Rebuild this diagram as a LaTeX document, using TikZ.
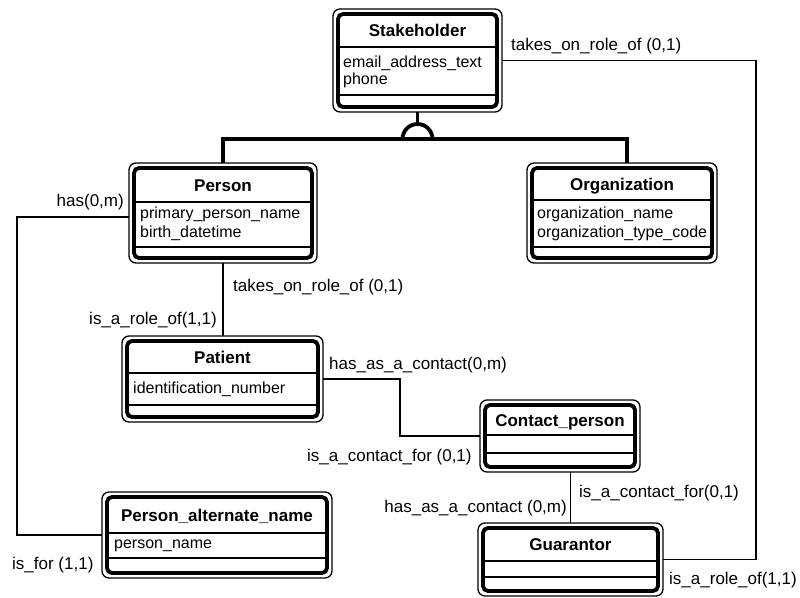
\documentclass[tikz,border=0pt]{standalone}
\usepackage{fontspec}
\setmainfont{Liberation Sans}
\usetikzlibrary{calc}
\tikzset{
 outerbox/.style={draw, line width=1.3pt, rounded corners=7pt, inner sep=0pt, outer sep=0pt},
 innerbox/.style={draw, line width=3.8pt, rounded corners=5pt},
 sepline/.style={draw, line width=1.1pt},
 titletext/.style={font=\fontsize{17}{20}\selectfont\bfseries, inner sep=0pt, anchor=base},
 attrtext/.style={font=\fontsize{16}{18}\selectfont, inner sep=0pt, anchor=base west},
 lbl/.style={font=\fontsize{17}{20}\selectfont, inner sep=0pt},
 conn/.style={draw, line width=1.3pt},
 junc/.style={draw, line width=3.8pt},
}
\newcommand{\ent}[8]{%
 \node[outerbox, minimum width={(#4-#2)*1pt}, minimum height={(#5-#3)*1pt}] (#1) at ({(#2+#4)/2},{(#3+#5)/2}) {};
 \draw[innerbox] ({#2+5},{#3+5}) rectangle ({#4-5},{#5-5});
 \draw[sepline] ({#2+5},#6) -- ({#4-5},#6);
 \draw[sepline] ({#2+5},#7) -- ({#4-5},#7);
 \node[titletext] (#1-t) at ({(#2+#4)/2},{(#3+5+#6)/2+6}) {#8};
}
\begin{document}
\begin{tikzpicture}[x=1pt,y=-1pt]
\useasboundingbox (0,0) rectangle (800,597);

% entities
\ent{stake}{333}{9}{502}{112}{47}{95}{Stakeholder}
\node[attrtext] (stake-a1) at (343,67) {email\_address\_text};
\node[attrtext] (stake-a2) at (343,84) {phone};

\ent{person}{129}{163}{317}{263}{202}{247}{Person}
\node[attrtext] (person-a1) at (140,218) {primary\_person\_name};
\node[attrtext] (person-a2) at (140,237) {birth\_datetime};

\ent{org}{527}{163}{717}{263}{200}{247}{Organization}
\node[attrtext] (org-a1) at (537,218) {organization\_name};
\node[attrtext] (org-a2) at (537,237) {organization\_type\_code};

\ent{patient}{122}{336}{323}{422}{373}{405}{Patient}
\node[attrtext] (patient-a1) at (133,393) {identification\_number};

\ent{contact}{480}{400}{640}{472}{435}{453}{Contact\_person}

\ent{guar}{478}{523}{663}{596}{561}{577}{Guarantor}

\ent{pan}{102}{492}{332}{578}{533}{558}{Person\_alternate\_name}
\node[attrtext] (pan-a1) at (114,548) {person\_name};

% generalization junction
\coordinate (jl) at (223,139);
\coordinate (jr) at (627,139);
\coordinate (jm) at (417.5,139);
\draw[junc] (person.north) -- (jl) -- (jr) -- (jr |- org.north);
\draw[junc] ($(jm)+(-15,0)$) arc[start angle=180, end angle=0, radius=15pt];
\draw[junc] (stake.south) -- ($(jm)+(0,-15)$);

% connectors
\coordinate (rr) at (756,0);
\draw[conn] (stake.east) -| (rr |- guar.east) -- (guar.east);
\coordinate (ll) at (17,0);
\draw[conn] ($(person.west)+(0,4)$) -| (ll |- pan.west) -- (pan.west);
\draw[conn] (person.south) -- (person.south |- patient.north);
\coordinate (pc) at (400,0);
\draw[conn] (patient.east) -- (pc |- patient.east) |- (contact.west);
\draw[conn] (guar.north) -- (guar.north |- contact.south);

% labels
\node[lbl, anchor=west] (l1) at (511,46) {takes\_on\_role\_of (0,1)};
\node[lbl, anchor=east] (l2) at (124,202) {has(0,m)};
\node[lbl, anchor=west] (l3) at (12,565) {is\_for (1,1)};
\node[lbl, anchor=west] (l4) at (233,287) {takes\_on\_role\_of (0,1)};
\node[lbl, anchor=east] (l5) at (217,320) {is\_a\_role\_of(1,1)};
\node[lbl, anchor=west] (l6) at (329,365) {has\_as\_a\_contact(0,m)};
\node[lbl, anchor=west] (l7) at (307,457) {is\_a\_contact\_for (0,1)};
\node[lbl, anchor=west] (l8) at (579,493) {is\_a\_contact\_for(0,1)};
\node[lbl, anchor=east] (l9) at (567,508) {has\_as\_a\_contact (0,m)};
\node[lbl, anchor=west] (l10) at (669,580) {is\_a\_role\_of(1,1)};
\end{tikzpicture}
\end{document}
